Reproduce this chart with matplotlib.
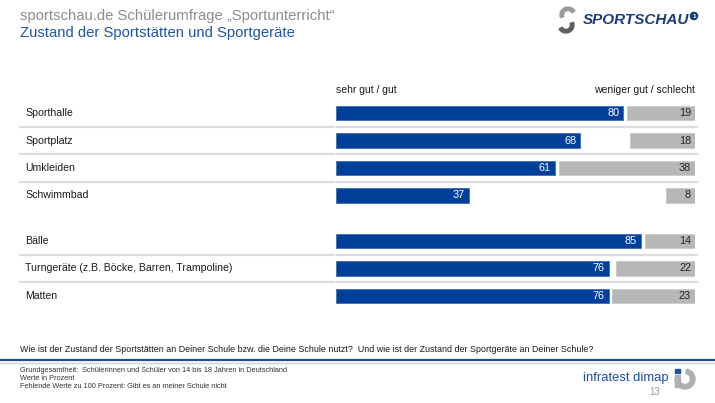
import numpy as np
import matplotlib.pyplot as plt
import matplotlib.transforms as mtransforms
from matplotlib.patches import Rectangle, Wedge, Circle

plt.rcParams['font.family'] = ['Liberation Sans', 'DejaVu Sans']

# data
categories = ["Sporthalle", "Sportplatz", "Umkleiden", "Schwimmbad",
              "Bälle", "Turngeräte (z.B. Böcke, Barren, Trampoline)", "Matten"]
good = [80, 68, 61, 37, 85, 76, 76]   # sehr gut / gut
bad = [19, 18, 38, 8, 14, 22, 23]     # weniger gut / schlecht
groups = [0, 0, 0, 0, 1, 1, 1]

title1 = "sportschau.de Schülerumfrage „Sportunterricht“"
title2 = "Zustand der Sportstätten und Sportgeräte"
head_good = "sehr gut / gut"
head_bad = "weniger gut / schlecht"
question = ("Wie ist der Zustand der Sportstätten an Deiner Schule bzw. die Deine Schule nutzt?  "
            "Und wie ist der Zustand der Sportgeräte an Deiner Schule?")
notes = ["Grundgesamtheit:  Schülerinnen und Schüler von 14 bis 18 Jahren in Deutschland",
         "Werte in Prozent",
         "Fehlende Werte zu 100 Prozent: Gibt es an meiner Schule nicht"]

BLUE = "#00409A"
GREY = "#B7B7B7"
SEP = "#DCDCDC"
NAVY = "#1B3C7E"

W, H = 715, 403
fig = plt.figure(figsize=(W / 100, H / 100), dpi=100)


def fx(px):
    return px / W


def fy(py):
    return 1 - py / H


# row positions: index plus a gap between the two groups
ypos = np.arange(len(categories)) + 0.65 * np.array(groups)
row_px, top_px = 27.5, 113
ytop, ybot = -0.5, ypos[-1] + 0.5
ax = fig.add_axes([fx(336), fy(top_px + ybot * row_px), fx(695) - fx(336),
                   (ybot - ytop) * row_px / H])
ax.set_xlim(0, 100)
ax.set_ylim(ybot, ytop)
ax.axis('off')

good_a = np.array(good)
bad_a = np.array(bad)
ax.barh(ypos, good_a, height=0.52, color=BLUE, edgecolor="#3F6FB8", linewidth=0.6)
ax.barh(ypos, bad_a, left=100 - bad_a, height=0.52, color=GREY, edgecolor="#C9C9C9", linewidth=0.6)

for y, g, b in zip(ypos, good, bad):
    ax.text(g - 1.1, y, str(g), ha='right', va='center', color='white', fontsize=7.8)
    ax.text(100 - 1.1, y, str(b), ha='right', va='center', color='#262626', fontsize=7.8)

trans = mtransforms.blended_transform_factory(fig.transFigure, ax.transData)
for y, lab in zip(ypos, categories):
    ax.text(fx(25), y, lab, transform=trans, ha='left', va='center', fontsize=7.6, color='#1A1A1A')

# separators between rows of the same group
for i in range(len(ypos) - 1):
    if groups[i] == groups[i + 1]:
        ym = (ypos[i] + ypos[i + 1]) / 2
        ax.plot([fx(20), fx(334)], [ym, ym], transform=trans, color=SEP, lw=1.6, clip_on=False)
        ax.plot([fx(336.5), fx(697)], [ym, ym], transform=trans, color=SEP, lw=1.6, clip_on=False)

ax.text(0, ypos[0] - 0.82, head_good, ha='left', va='center', fontsize=7.5, color='#1A1A1A')
ax.text(100, ypos[0] - 0.82, head_bad, ha='right', va='center', fontsize=7.5, color='#1A1A1A')

# titles
fig.text(fx(20), fy(16), title1, ha='left', va='center', fontsize=10.7, color='#8C8C8C')
fig.text(fx(20), fy(33), title2, ha='left', va='center', fontsize=10.7, color='#1F56A8')

# overlay in pixel coordinates for logos and rules
deco = fig.add_axes([0, 0, 1, 1], zorder=-1)
deco.set_xlim(0, W)
deco.set_ylim(H, 0)
deco.axis('off')

# sportschau logo
fig.text(fx(583), fy(20), "SPORTSCHAU", ha='left', va='center', fontsize=11,
         fontweight='bold', style='italic', color=NAVY)
deco.add_patch(Circle((694, 16), 3.6, color=NAVY))
deco.text(694, 16.3, "1", ha='center', va='center', fontsize=4.5, color='white', fontweight='bold')
deco.add_patch(Wedge((568, 15), 8, 160, 330, width=3.5, color='#9A9A9A'))
deco.add_patch(Wedge((566, 25), 8, -20, 150, width=3.5, color='#5F5F5F'))

# question and bottom rule
fig.text(fx(20), fy(350), question, ha='left', va='center', fontsize=6.4, color='#1A1A1A')
deco.plot([0, W], [359.5, 359.5], color='#1F4E9A', lw=1.6)
deco.plot([0, W], [362.5, 362.5], color='#D0D0D0', lw=1.0)

for k, line in enumerate(notes):
    fig.text(fx(20), fy(371 + 8 * k), line, ha='left', va='center', fontsize=5.3, color='#333333')

# infratest dimap logo
fig.text(fx(583), fy(378), "infratest dimap", ha='left', va='center', fontsize=9.4, color='#1F4E9A')
deco.add_patch(Rectangle((675, 368.5), 4.5, 4.5, color='#1F4E9A'))
deco.add_patch(Rectangle((675, 375), 4.5, 12, color='#B0B0B0'))
deco.add_patch(Wedge((685, 379), 10, -80, 190, width=4.5, color='#B0B0B0'))
fig.text(fx(655), fy(392), "13", ha='center', va='center', fontsize=7, color='#9A9A9A')

fig.savefig("out.png", dpi=100)
